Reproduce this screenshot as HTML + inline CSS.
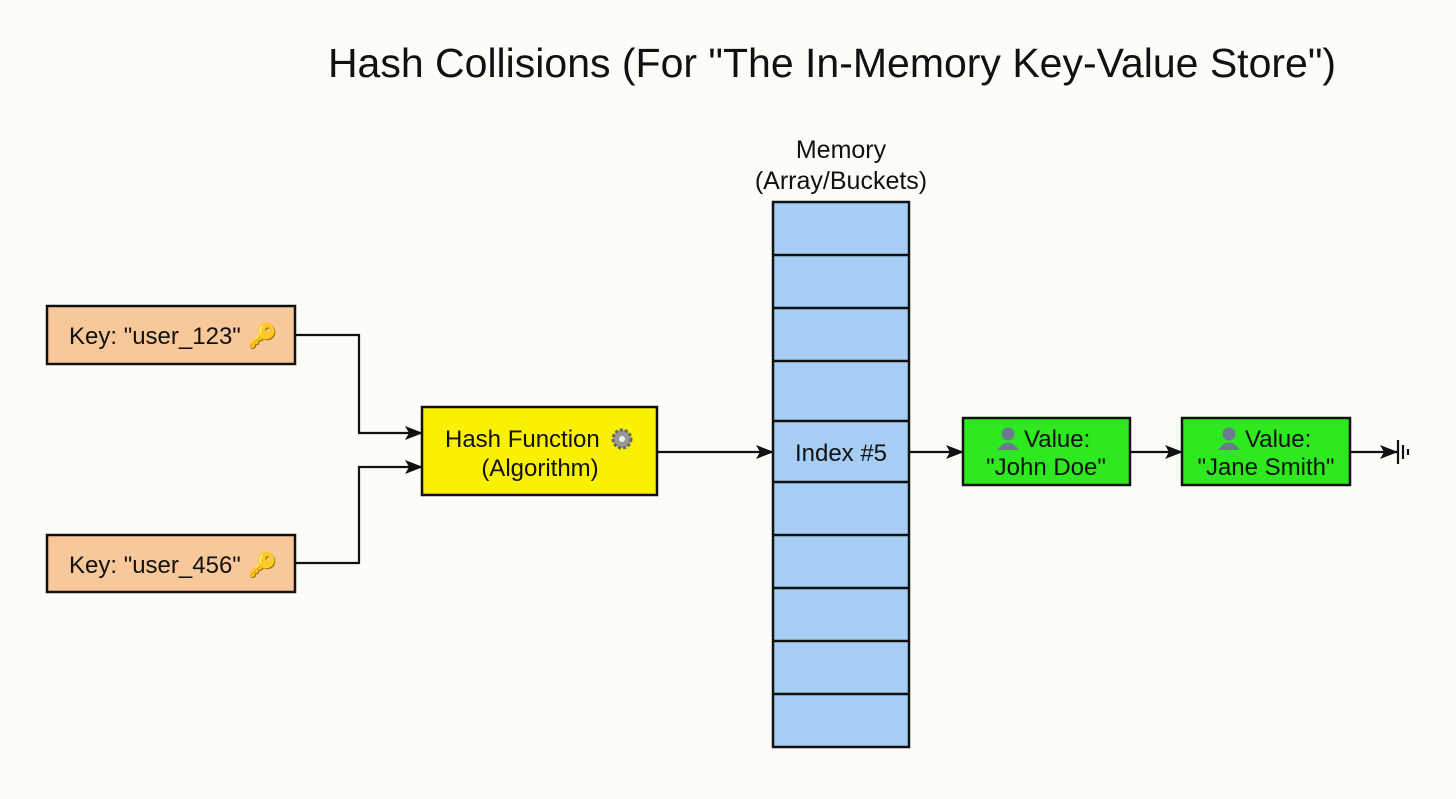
<!DOCTYPE html>
<html><head><style>
body{margin:0;background:#fcfcf9;}
text{font-family:"Liberation Sans",sans-serif;fill:#111;}
</style></head><body>
<svg width="1456" height="794" xmlns="http://www.w3.org/2000/svg">
<defs><marker id="a" markerWidth="18" markerHeight="14" refX="17" refY="7" orient="auto" markerUnits="userSpaceOnUse"><path d="M0,0 L18,7 L0,14 L4,7z" fill="#111"/></marker></defs>
<rect width="1456" height="794" fill="#fcfcf9"/>
<text x="832" y="77" font-size="41" text-anchor="middle">Hash Collisions (For "The In-Memory Key-Value Store")</text>
<text x="841" y="158" font-size="25" text-anchor="middle">Memory</text>
<text x="841" y="189" font-size="25" text-anchor="middle">(Array/Buckets)</text>
<rect x="773" y="202" width="136" height="545" fill="#a6cdf3" stroke="#111" stroke-width="2.5"/>
<g stroke="#111" stroke-width="2.5">
<line x1="773" y1="255" x2="909" y2="255"/><line x1="773" y1="308" x2="909" y2="308"/>
<line x1="773" y1="361" x2="909" y2="361"/><line x1="773" y1="421" x2="909" y2="421"/>
<line x1="773" y1="482" x2="909" y2="482"/><line x1="773" y1="535" x2="909" y2="535"/>
<line x1="773" y1="588" x2="909" y2="588"/><line x1="773" y1="641" x2="909" y2="641"/>
<line x1="773" y1="694" x2="909" y2="694"/>
</g>
<text x="841" y="461" font-size="24" text-anchor="middle">Index #5</text>
<rect x="47" y="306" width="248" height="58" fill="#f8c79a" stroke="#111" stroke-width="2.5"/>
<text x="69" y="344" font-size="24">Key: "user_123" <tspan fill="#d9a520">🔑</tspan></text>
<rect x="47" y="535" width="248" height="57" fill="#f8c79a" stroke="#111" stroke-width="2.5"/>
<text x="69" y="573" font-size="24">Key: "user_456" <tspan fill="#d9a520">🔑</tspan></text>
<rect x="422" y="407" width="235" height="88" fill="#f9f100" stroke="#111" stroke-width="2.5"/>
<text x="445" y="447" font-size="24">Hash Function</text>
<circle cx="622" cy="439" r="9" fill="#999" stroke="#666" stroke-width="3" stroke-dasharray="3 2"/><circle cx="622" cy="439" r="3" fill="#eee"/>
<text x="540" y="476" font-size="24" text-anchor="middle">(Algorithm)</text>
<rect x="963" y="418" width="167" height="67" fill="#2ee820" stroke="#111" stroke-width="2.5"/>
<rect x="1182" y="418" width="168" height="67" fill="#2ee820" stroke="#111" stroke-width="2.5"/>
<g fill="#6a7a90"><circle cx="1008" cy="434" r="6.5"/><path d="M997,450 q11,-15 22,0z"/><circle cx="1229" cy="434" r="6.5"/><path d="M1218,450 q11,-15 22,0z"/></g>
<text x="1024" y="447" font-size="24">Value:</text>
<text x="1046" y="475" font-size="24" text-anchor="middle">"John Doe"</text>
<text x="1245" y="447" font-size="24">Value:</text>
<text x="1266" y="475" font-size="24" text-anchor="middle">"Jane Smith"</text>
<g stroke="#111" stroke-width="2.2" fill="none">
<path d="M295,335 H359 V433 H422" marker-end="url(#a)"/>
<path d="M295,563 H359 V467 H422" marker-end="url(#a)"/>
<path d="M657,452 H773" marker-end="url(#a)"/>
<path d="M909,452 H963" marker-end="url(#a)"/>
<path d="M1130,452 H1182" marker-end="url(#a)"/>
<path d="M1350,452 H1397" marker-end="url(#a)"/>
<line x1="1398" y1="440" x2="1398" y2="464"/><line x1="1403" y1="445" x2="1403" y2="459"/><line x1="1408" y1="449" x2="1408" y2="455"/>
</g>
</svg>
</body></html>
